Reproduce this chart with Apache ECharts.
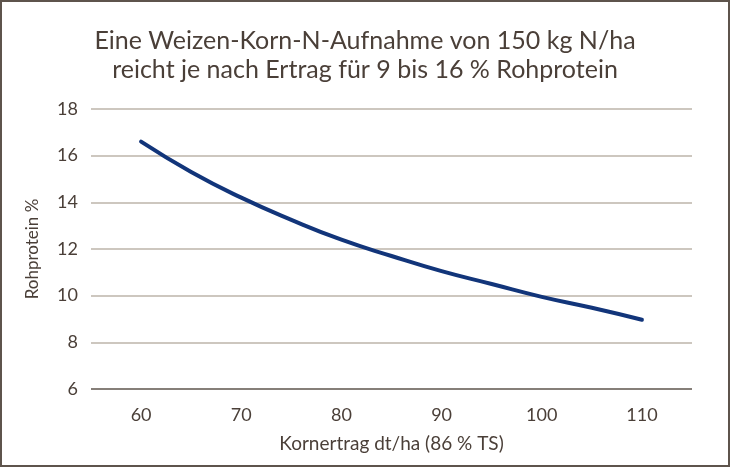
<!DOCTYPE html>
<html>
<head>
<meta charset="utf-8">
<script src="https://cdn.jsdelivr.net/npm/echarts@6/dist/echarts.min.js"></script>
<style>
  html, body { margin: 0; padding: 0; background: #fff; }
  #chart { width: 730px; height: 467px; box-sizing: border-box; border: 2px solid #5e544c; }
</style>
</head>
<body>
<div id="chart"></div>
<script>
// Kornertrag dt/ha and resulting Rohprotein %
const yields = [60, 65, 70, 75, 80, 85, 90, 95, 100, 105, 110];
const protein = [16.6, 15.3, 14.2, 13.25, 12.4, 11.7, 11.05, 10.5, 9.95, 9.48, 8.97];
const xTicks = [60, 70, 80, 90, 100, 110];

const textColor = "#4a3f38";

const chart = echarts.init(document.getElementById("chart"));

chart.setOption({
  animation: false,
  title: {
    text: "Eine Weizen-Korn-N-Aufnahme von 150 kg N/ha\nreicht je nach Ertrag für 9 bis 16 % Rohprotein",
    left: "center",
    top: 19,
    textStyle: {
      color: textColor,
      fontFamily: "Lato",
      fontWeight: "normal",
      fontSize: 25,
      lineHeight: 29
    }
  },
  grid: {
    left: 89,
    right: 36,
    top: 107,
    bottom: 76
  },
  xAxis: {
    type: "value",
    min: 55,
    max: 115,
    name: "Kornertrag dt/ha (86 % TS)",
    nameLocation: "middle",
    nameGap: 45,
    nameTextStyle: { color: textColor, fontFamily: "Lato", fontSize: 19 },
    axisLine: { show: false },
    axisTick: { show: false },
    splitLine: { show: false },
    axisLabel: {
      customValues: xTicks,
      color: textColor,
      fontFamily: "Lato",
      fontSize: 18,
      margin: 17
    }
  },
  yAxis: {
    type: "value",
    min: 6,
    max: 18,
    interval: 2,
    name: "Rohprotein %",
    nameLocation: "middle",
    nameGap: 50,
    nameTextStyle: { color: textColor, fontFamily: "Lato", fontSize: 17 },
    axisLine: { show: false },
    axisTick: { show: false },
    axisLabel: {
      color: textColor,
      fontFamily: "Lato",
      fontSize: 18,
      margin: 13
    },
    splitLine: {
      lineStyle: {
        color: ["#5e544c", "#bdb4aa", "#bdb4aa", "#bdb4aa", "#bdb4aa", "#bdb4aa", "#bdb4aa"],
        width: 1.5
      }
    }
  },
  series: [
    {
      type: "line",
      data: yields.map((x, i) => [x, protein[i]]),
      smooth: true,
      showSymbol: false,
      lineStyle: {
        color: "#12357a",
        width: 4,
        cap: "round"
      }
    }
  ]
});
</script>
</body>
</html>
